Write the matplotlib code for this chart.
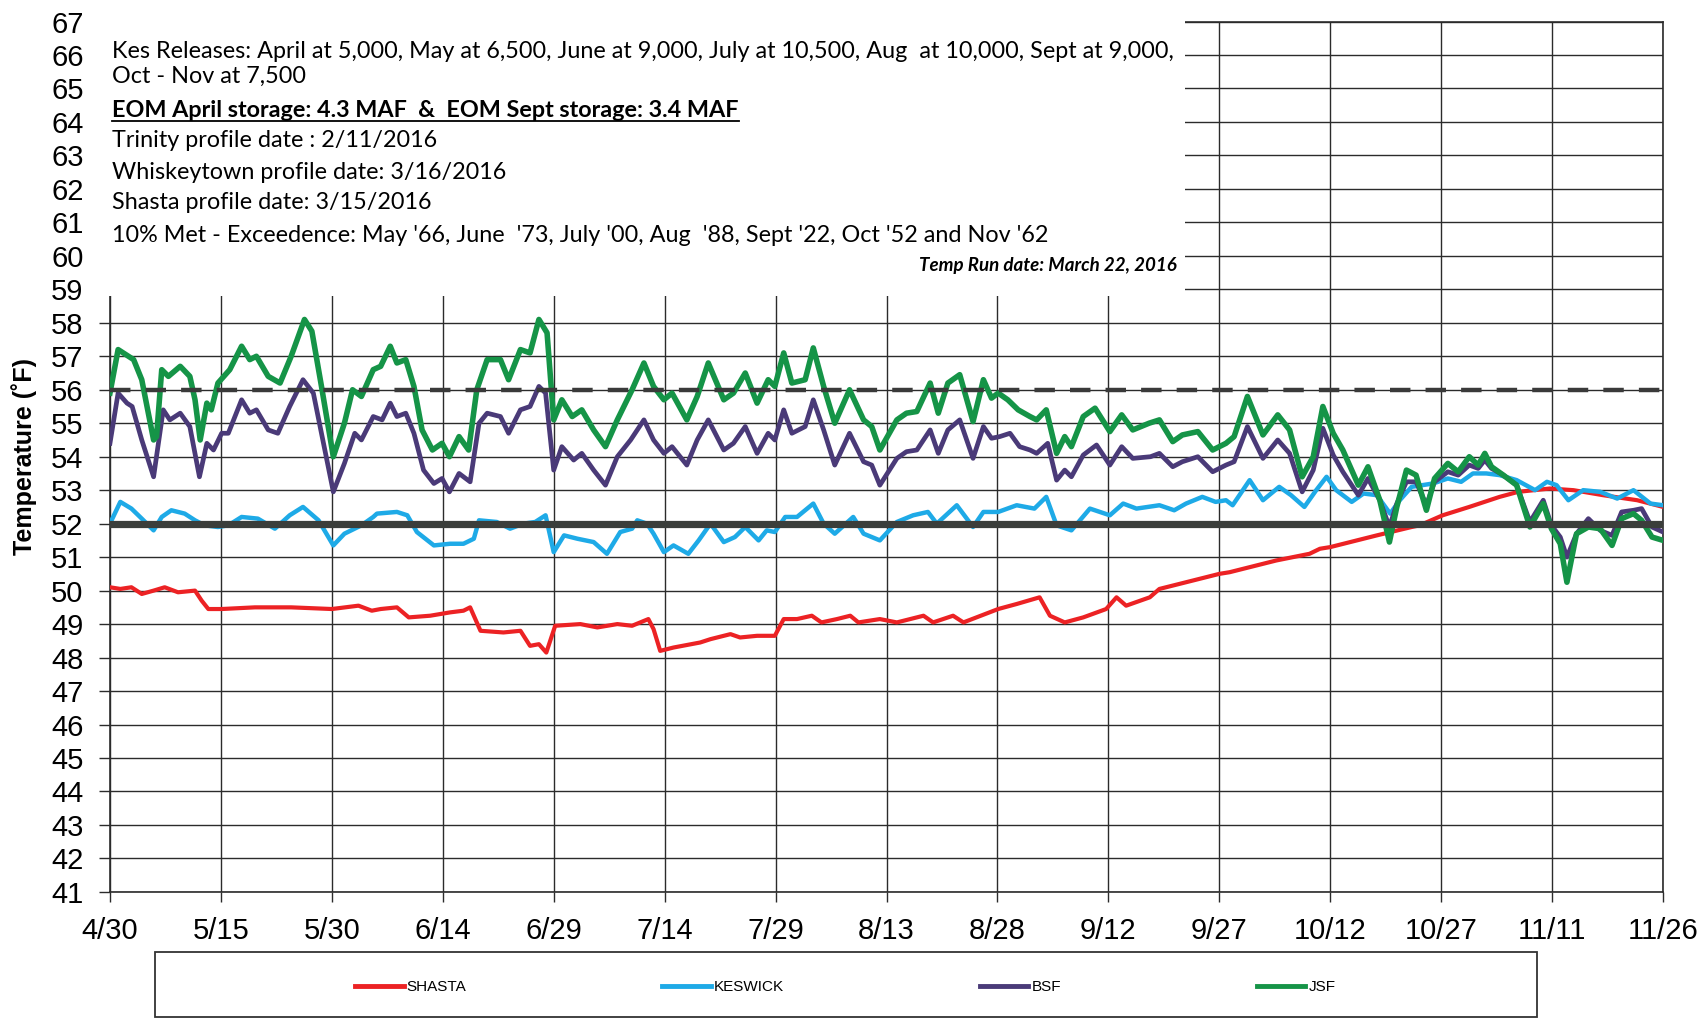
import matplotlib
matplotlib.use("Agg")
import matplotlib.pyplot as plt
from matplotlib.patches import Rectangle
from matplotlib.lines import Line2D

# x = days after 4/30/2016, y = temperature (F)
shasta_day = [0, 1.4, 2.9, 4.3, 5.9, 7.4, 9.2, 11.5, 12.4, 13.3, 15.1, 19.6, 24.5, 30.0, 33.6, 35.4,
              36.6, 38.8, 40.4, 43.3, 46.0, 47.8, 48.7, 50.1, 53.2, 55.5, 56.8, 58.0, 59.0, 60.2,
              63.6, 65.9, 68.6, 70.6, 72.8, 73.5, 74.4, 76.2, 79.8, 81.2, 83.9, 85.2, 87.5, 89.9,
              91.1, 92.9, 94.9, 96.2, 98.3, 100.1, 101.2, 104.1, 106.4, 110.0, 111.3, 114.0, 115.4,
              120.1, 122.6, 125.7, 127.1, 129.1, 131.6, 134.7, 136.1, 137.4, 140.6, 141.9, 150.0,
              151.4, 157.7, 162.2, 163.6, 165.0, 171.3, 176.0, 177.1, 180.2, 183.8, 187.9, 190.4,
              194.7, 197.9, 201.9, 206.5, 210]
shasta_temp = [50.1, 50.05, 50.1, 49.9, 50.0, 50.1, 49.95, 50.0, 49.7, 49.45, 49.45, 49.5, 49.5, 49.45, 49.55, 49.4,
               49.45, 49.5, 49.2, 49.25, 49.35, 49.4, 49.5, 48.8, 48.75, 48.8, 48.35, 48.4, 48.15, 48.95,
               49.0, 48.9, 49.0, 48.95, 49.15, 48.85, 48.2, 48.3, 48.45, 48.55, 48.7, 48.6, 48.65, 48.65,
               49.15, 49.15, 49.25, 49.05, 49.15, 49.25, 49.05, 49.15, 49.05, 49.25, 49.05, 49.25, 49.05,
               49.45, 49.6, 49.8, 49.25, 49.05, 49.2, 49.45, 49.8, 49.55, 49.8, 50.05, 50.5,
               50.55, 50.9, 51.1, 51.25, 51.3, 51.65, 51.9, 51.95, 52.25, 52.5, 52.8, 52.95,
               53.05, 53.0, 52.85, 52.7, 52.5]

keswick_day = [0, 1.4, 2.9, 4.3, 5.9, 7.0, 8.3, 10.1, 11.5, 12.8, 14.6, 16.0, 17.8, 20.0, 22.3, 24.3,
               26.1, 28.2, 30.2, 31.7, 34.0, 35.6, 36.1, 38.8, 40.2, 41.5, 43.8, 46.0, 47.8, 49.2,
               49.9, 52.3, 54.1, 55.9, 57.5, 58.9, 60.0, 61.4, 63.2, 65.4, 67.2, 69.0, 70.6, 71.3,
               72.6, 73.5, 74.9, 76.2, 78.2, 79.6, 81.2, 83.0, 84.5, 85.9, 87.7, 88.8, 89.9, 91.3,
               92.9, 95.1, 96.5, 98.0, 100.5, 101.9, 104.1, 106.4, 108.6, 110.6, 111.8, 114.5, 116.7,
               118.1, 120.1, 122.6, 125.0, 126.6, 128.0, 130.0, 132.5, 135.2, 137.0, 138.8, 141.9,
               143.9, 145.5, 147.7, 149.5, 150.9, 151.8, 154.1, 155.9, 158.1, 159.7, 161.5, 163.1,
               164.5, 165.8, 167.9, 169.5, 171.3, 173.1, 174.4, 176.0, 178.9, 180.9, 182.7, 184.3,
               186.1, 187.9, 190.2, 192.7, 194.3, 195.6, 197.2, 199.2, 201.5, 203.8, 206.0, 208.3, 210]
keswick_temp = [52.0, 52.65, 52.45, 52.15, 51.8, 52.2, 52.4, 52.3, 52.1, 51.95, 51.9, 51.95, 52.2, 52.15, 51.85, 52.25,
                52.5, 52.1, 51.35, 51.7, 51.95, 52.2, 52.3, 52.35, 52.25, 51.75, 51.35, 51.4, 51.4, 51.55,
                52.1, 52.05, 51.85, 52.0, 52.05, 52.25, 51.15, 51.65, 51.55, 51.45, 51.1, 51.75, 51.85, 52.1,
                52.0, 51.7, 51.15, 51.35, 51.1, 51.5, 52.0, 51.45, 51.6, 51.9, 51.5, 51.8, 51.75, 52.2,
                52.2, 52.6, 52.0, 51.7, 52.2, 51.7, 51.5, 52.05, 52.25, 52.35, 52.0, 52.55, 51.9,
                52.35, 52.35, 52.55, 52.45, 52.8, 51.95, 51.8, 52.45, 52.25, 52.6, 52.45, 52.55,
                52.4, 52.6, 52.8, 52.65, 52.7, 52.55, 53.3, 52.7, 53.1, 52.85, 52.5, 53.0,
                53.4, 53.0, 52.65, 52.9, 52.85, 52.3, 52.7, 53.1, 53.2, 53.35, 53.25, 53.5,
                53.5, 53.45, 53.3, 53.0, 53.25, 53.15, 52.7, 53.0, 52.95, 52.75, 53.0, 52.6, 52.55]

bsf_day = [0, 1.1, 2.3, 3.0, 4.3, 5.9, 7.2, 8.1, 9.5, 10.8, 12.1, 13.1, 14.0, 15.1, 16.0, 17.8, 18.9,
           19.8, 21.4, 22.7, 24.3, 26.1, 27.5, 30.2, 31.7, 33.1, 34.0, 35.6, 36.8, 37.9, 38.8, 40.0,
           41.1, 42.4, 43.8, 44.9, 45.9, 47.2, 48.7, 49.9, 51.0, 52.8, 53.9, 55.5, 56.8, 58.0, 58.9,
           60.0, 61.1, 62.7, 63.8, 65.4, 67.0, 68.6, 70.4, 72.2, 73.5, 74.9, 76.0, 78.0, 79.4, 80.9,
           83.0, 84.3, 85.9, 87.5, 89.0, 89.9, 91.1, 92.2, 94.0, 95.1, 96.5, 98.0, 100.0, 101.9,
           103.0, 104.1, 106.4, 107.7, 109.1, 110.9, 112.0, 113.3, 114.9, 116.7, 118.1, 119.2, 120.3,
           121.7, 123.0, 124.4, 125.3, 126.8, 128.0, 129.1, 130.0, 131.6, 133.4, 135.2, 136.8, 138.3,
           140.7, 141.9, 143.7, 145.0, 147.1, 149.1, 150.9, 152.0, 153.8, 155.9, 157.9, 159.5, 161.2,
           162.7, 164.0, 165.4, 166.7, 168.8, 170.1, 171.7, 173.0, 174.0, 175.3, 176.6, 178.0, 179.1,
           180.9, 182.3, 183.8, 185.0, 185.9, 186.8, 188.4, 190.2, 192.0, 193.8, 194.9, 196.1, 197.0,
           198.3, 199.9, 201.5, 203.1, 204.4, 206.0, 207.1, 208.5, 210]
bsf_temp = [54.4, 55.9, 55.6, 55.5, 54.5, 53.4, 55.4, 55.1, 55.3, 54.9, 53.4, 54.4, 54.2, 54.7, 54.7, 55.7, 55.3,
            55.4, 54.8, 54.7, 55.5, 56.3, 55.9, 52.95, 53.8, 54.7, 54.5, 55.2, 55.1, 55.6, 55.2, 55.3,
            54.7, 53.6, 53.2, 53.35, 52.95, 53.5, 53.25, 55.0, 55.3, 55.2, 54.7, 55.4, 55.5, 56.1, 55.9,
            53.6, 54.3, 53.9, 54.1, 53.6, 53.15, 54.0, 54.5, 55.1, 54.5, 54.1, 54.3, 53.75, 54.5, 55.1,
            54.2, 54.4, 54.9, 54.1, 54.7, 54.5, 55.4, 54.7, 54.9, 55.7, 54.8, 53.75, 54.7, 53.85,
            53.75, 53.15, 53.95, 54.15, 54.2, 54.8, 54.1, 54.8, 55.1, 53.95, 54.9, 54.55, 54.6,
            54.7, 54.3, 54.2, 54.1, 54.4, 53.3, 53.6, 53.4, 54.05, 54.35, 53.75, 54.3, 53.95,
            54.0, 54.1, 53.7, 53.85, 54.0, 53.55, 53.75, 53.85, 54.9, 53.95, 54.5, 54.1, 52.95,
            53.6, 54.85, 54.05, 53.55, 52.85, 53.35, 52.7, 51.9, 52.6, 53.25, 53.25, 52.55, 53.25,
            53.55, 53.45, 53.75, 53.65, 53.9, 53.65, 53.45, 53.15, 52.05, 52.7, 51.95, 51.6, 51.0,
            51.7, 52.15, 51.8, 51.65, 52.35, 52.4, 52.45, 51.9, 51.75]

jsf_day = [0, 1.1, 2.5, 3.2, 4.3, 5.9, 6.3, 7.0, 7.9, 9.5, 10.8, 11.5, 12.2, 13.1, 13.7, 14.6, 16.2,
           17.8, 18.9, 19.8, 21.4, 23.0, 24.5, 26.3, 27.3, 28.6, 30.2, 31.7, 32.8, 34.0, 35.6, 36.6,
           37.9, 38.8, 40.0, 41.1, 42.2, 43.6, 44.9, 45.9, 47.2, 48.5, 49.6, 51.0, 52.8, 53.9, 55.5,
           56.8, 58.0, 59.1, 60.0, 61.1, 62.5, 63.8, 65.4, 67.0, 68.6, 70.6, 72.2, 73.5, 74.9, 76.0,
           78.0, 79.4, 80.9, 83.0, 84.3, 85.9, 87.5, 89.0, 89.9, 91.1, 92.2, 94.0, 95.1, 96.5, 98.0,
           100.0, 101.9, 103.0, 104.1, 106.4, 107.7, 109.1, 110.9, 112.0, 113.3, 114.9, 116.7, 118.1,
           119.2, 120.1, 121.4, 122.8, 124.4, 125.3, 126.6, 128.0, 129.1, 130.0, 131.6, 133.2, 135.2,
           136.8, 138.3, 140.5, 141.9, 143.7, 145.0, 147.1, 149.1, 150.9, 152.0, 153.8, 155.9, 157.9,
           159.5, 161.2, 162.7, 164.0, 165.4, 166.7, 168.8, 170.1, 171.7, 173.0, 174.0, 175.3, 176.6,
           178.0, 179.1, 180.9, 182.3, 183.8, 185.0, 185.9, 186.8, 188.4, 190.2, 192.0, 193.8, 194.9,
           196.1, 197.0, 198.3, 199.9, 201.5, 203.1, 204.4, 206.0, 207.1, 208.5, 210]
jsf_temp = [55.9, 57.2, 57.0, 56.9, 56.3, 54.5, 54.6, 56.6, 56.4, 56.7, 56.4, 55.7, 54.5, 55.6, 55.4, 56.2, 56.6,
            57.3, 56.9, 57.0, 56.4, 56.2, 57.0, 58.1, 57.75, 56.1, 54.0, 55.0, 56.0, 55.8, 56.6, 56.7,
            57.3, 56.8, 56.9, 56.1, 54.8, 54.2, 54.4, 54.0, 54.6, 54.2, 56.0, 56.9, 56.9, 56.3, 57.2,
            57.1, 58.1, 57.7, 55.1, 55.7, 55.2, 55.4, 54.8, 54.3, 55.1, 56.0, 56.8, 56.1, 55.7, 55.9,
            55.1, 55.8, 56.8, 55.7, 55.9, 56.5, 55.6, 56.3, 56.1, 57.1, 56.2, 56.3, 57.25, 56.1, 55.0,
            56.0, 55.1, 54.9, 54.2, 55.1, 55.3, 55.35, 56.2, 55.3, 56.2, 56.45, 55.05, 56.3,
            55.75, 55.9, 55.7, 55.4, 55.2, 55.1, 55.4, 54.1, 54.6, 54.3, 55.2, 55.45, 54.75,
            55.25, 54.8, 55.0, 55.1, 54.45, 54.65, 54.75, 54.2, 54.4, 54.6, 55.8, 54.65, 55.25,
            54.8, 53.4, 54.0, 55.5, 54.7, 54.2, 53.15, 53.7, 52.7, 51.45, 52.5, 53.6, 53.45,
            52.4, 53.35, 53.8, 53.55, 54.0, 53.75, 54.1, 53.7, 53.45, 53.15, 51.9, 52.6, 51.85,
            51.4, 50.25, 51.7, 51.9, 51.85, 51.35, 52.15, 52.3, 52.1, 51.6, 51.5]

criteria_upper = 56.0
criteria_lower = 52.0

tick_days = list(range(0, 211, 15))
tick_labels = ["4/30", "5/15", "5/30", "6/14", "6/29", "7/14", "7/29", "8/13", "8/28",
               "9/12", "9/27", "10/12", "10/27", "11/11", "11/26"]
y_ticks = list(range(41, 68))

note_lines = [
    "Kes Releases: April at 5,000, May at 6,500, June at 9,000, July at 10,500, Aug  at 10,000, Sept at 9,000,",
    "Oct - Nov at 7,500",
    "EOM April storage: 4.3 MAF  &  EOM Sept storage: 3.4 MAF",
    "Trinity profile date : 2/11/2016",
    "Whiskeytown profile date: 3/16/2016",
    "Shasta profile date: 3/15/2016",
    "10% Met - Exceedence: May '66, June  '73, July '00, Aug  '88, Sept '22, Oct '52 and Nov '62",
]
note_y = [66.1, 65.35, 64.35, 63.45, 62.5, 61.6, 60.6]
run_date = "Temp Run date: March 22, 2016"

fig = plt.figure(figsize=(16.97, 10.24), dpi=100)
ax = fig.add_axes([0.0648, 0.129, 0.9152, 0.85])

ax.plot(shasta_day, shasta_temp, color="#ec2224", lw=3.0, zorder=4, solid_joinstyle="round")
ax.plot(keswick_day, keswick_temp, color="#1eaae7", lw=3.2, zorder=4, solid_joinstyle="round")
ax.plot(bsf_day, bsf_temp, color="#4a3a78", lw=3.4, zorder=4, solid_joinstyle="round")
ax.plot(jsf_day, jsf_temp, color="#159447", lw=4.0, zorder=4, solid_joinstyle="round")

ax.plot([0, 210], [criteria_upper, criteria_upper], color="#3a3a3a", lw=3.2,
        dashes=(4.6, 3.4), zorder=5, solid_capstyle="butt")
ax.plot([0, 210], [criteria_lower, criteria_lower], color="#3b3e3b", lw=5.2, zorder=5)

ax.set_xlim(0, 210)
ax.set_ylim(41, 67)
ax.set_xticks(tick_days)
ax.set_xticklabels(tick_labels, family=["Liberation Sans Narrow", "Liberation Sans"], fontsize=21)
ax.set_yticks(y_ticks)
ax.set_yticklabels([str(t) for t in y_ticks], family="Liberation Sans", fontsize=21)
ax.tick_params(axis="x", direction="out", length=7, width=1, color="#2b2b2b", pad=11)
ax.tick_params(axis="y", direction="out", length=8, width=1, color="#2b2b2b", pad=11)
ax.grid(True, color="#2b2b2b", lw=1.0)
for s in ax.spines.values():
    s.set_color("#2b2b2b")
    s.set_linewidth(1.2)

# white notes panel sitting over the upper-left part of the grid
ax.add_patch(Rectangle((-2.5, 58.8), 147.8, 9.0, facecolor="white", edgecolor="none",
                       zorder=3, clip_on=False))

for i, (line, yy) in enumerate(zip(note_lines, note_y)):
    ax.text(0.3, yy, line, fontsize=16.8, family="Lato", va="center", ha="left",
            fontweight="bold" if i == 2 else "normal", zorder=6)
ax.text(144.3, 59.7, run_date, fontsize=13.5, family="Lato", fontweight="bold",
        style="italic", va="center", ha="right", zorder=6)

fig.text(0.0141, 0.554, "Temperature (˚F)", rotation=90, va="center", ha="center",
         fontsize=18, fontweight="bold", family="Liberation Sans")

# legend below the axes, inside its own frame
fig.patches.append(Rectangle((0.0911, 0.0068), 0.8145, 0.0635, transform=fig.transFigure,
                             facecolor="none", edgecolor="#333333", lw=1.3))
handles = [Line2D([], [], color="#ec2224", lw=3.5),
           Line2D([], [], color="#1eaae7", lw=3.5),
           Line2D([], [], color="#4a3a78", lw=3.5),
           Line2D([], [], color="#159447", lw=3.5)]
fig.legend(handles, ["SHASTA", "KESWICK", "BSF", "JSF"], loc="center left",
           bbox_to_anchor=(0.2045, 0.036), ncol=4, frameon=False, borderpad=0,
           handlelength=3.2, handletextpad=0.2, columnspacing=12.8,
           prop={"family": ["Liberation Sans Narrow", "Liberation Sans"], "size": 11})

# underline the storage line
fig.canvas.draw()
t3 = ax.texts[2]
bb = t3.get_window_extent().transformed(ax.transData.inverted())
ax.plot([bb.x0, bb.x1], [bb.y0 - 0.02, bb.y0 - 0.02], color="black", lw=1.3,
        zorder=6, clip_on=False)

fig.savefig("out.png", dpi=100)
